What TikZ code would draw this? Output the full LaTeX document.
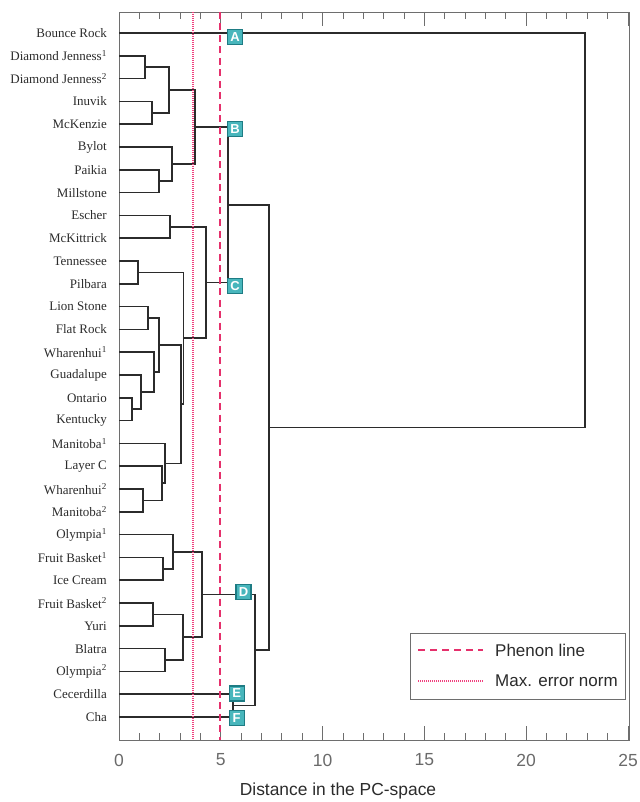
\documentclass[tikz,border=0pt]{standalone}
\usepackage{fontspec}
\setmainfont{Liberation Serif}
\setsansfont{Liberation Sans}
\definecolor{dendro}{HTML}{2B2B2B}
\definecolor{framec}{HTML}{6E6E6E}
\definecolor{phenon}{HTML}{E5306C}
\definecolor{errnorm}{HTML}{F0407E}
\definecolor{tealfill}{HTML}{48B6BC}
\definecolor{tealdark}{HTML}{1E7C84}
\definecolor{axistext}{HTML}{6A6A6A}
\tikzset{
  leaf/.style={anchor=east, inner sep=0pt, font=\fontsize{13}{13}\selectfont, text=dendro},
  dline/.style={draw=dendro, line width=1.7pt},
  frameline/.style={draw=framec, line width=0.9pt},
  phenonline/.style={draw=phenon, line width=2.4pt, dash pattern=on 7pt off 4.5pt},
  errline/.style={draw=errnorm, line width=1.3pt, dash pattern=on 1pt off 1pt},
  clusterbox/.style={draw=tealdark, fill=tealfill, line width=1.1pt, minimum width=15pt, minimum height=15pt, inner sep=0pt, text=white, font=\sffamily\bfseries\fontsize{13}{13}\selectfont},
  ticklabel/.style={font=\sffamily\fontsize{17.5}{17.5}\selectfont, text=axistext},
  legendtext/.style={anchor=west, inner sep=0pt, font=\sffamily\fontsize{17}{17}\selectfont, text=dendro},
}
\begin{document}
\begin{tikzpicture}[x=1pt,y=-1pt]
\useasboundingbox (0,0) rectangle (639,802);
% frame
\draw[frameline] (119,12) rectangle (629,740);
\foreach \v in {1,...,24}{
  \pgfmathsetmacro{\xx}{119+20.36*\v}
  \pgfmathtruncatemacro{\md}{mod(\v,5)}
  \ifnum\md=0
    \draw[frameline] (\xx,740) -- (\xx,726);
    \draw[frameline] (\xx,12) -- (\xx,26);
  \else
    \draw[frameline] (\xx,740) -- (\xx,733);
    \draw[frameline] (\xx,12) -- (\xx,19);
  \fi
}
\draw[frameline] (628,740) -- (628,726);
\draw[frameline] (628,12) -- (628,26);
\foreach \v in {0,5,...,25}{
  \node[ticklabel] (t\v) at ({119+20.36*\v},760) {\v};
}
\node[font=\sffamily\fontsize{17.4}{17.4}\selectfont, text=dendro] (xlabel) at (338,791) {Distance in the PC-space};
% leaves
\foreach \i/\name in {0/Bounce Rock,1/Diamond Jenness\textsuperscript{1},2/Diamond Jenness\textsuperscript{2},3/Inuvik,4/McKenzie,5/Bylot,6/Paikia,7/Millstone,8/Escher,9/McKittrick,10/Tennessee,11/Pilbara,12/Lion Stone,13/Flat Rock,14/Wharenhui\textsuperscript{1},15/Guadalupe,16/Ontario,17/Kentucky,18/Manitoba\textsuperscript{1},19/Layer C,20/Wharenhui\textsuperscript{2},21/Manitoba\textsuperscript{2},22/Olympia\textsuperscript{1},23/Fruit Basket\textsuperscript{1},24/Ice Cream,25/Fruit Basket\textsuperscript{2},26/Yuri,27/Blatra,28/Olympia\textsuperscript{2},29/Cecerdilla,30/Cha}{
  \node[leaf] (L\i) at (107,{33+22.8*\i}) {\name};
  \coordinate (p\i) at (119,{33+22.8*\i});
}
% merge points
\coordinate (m1) at (144.7,67.2);
\coordinate (m2) at (152,112.8);
\coordinate (m3) at (169,90);
\coordinate (m4) at (158.7,181.2);
\coordinate (m5) at (171.7,164.1);
\coordinate (m6) at (194.7,127.05);
\coordinate (m7) at (170,226.8);
\coordinate (m8) at (138,272.4);
\coordinate (m9) at (148,318);
\coordinate (m10) at (131.7,409.2);
\coordinate (m11) at (140.7,392.1);
\coordinate (m12) at (154.3,372.15);
\coordinate (m13) at (159,345.08);
\coordinate (m14) at (143.3,500.4);
\coordinate (m15) at (162.3,483.3);
\coordinate (m16) at (164.7,463.35);
\coordinate (m17) at (181,404.21);
\coordinate (m18) at (183.5,338.3);
\coordinate (m19) at (205.7,282.55);
\coordinate (m20) at (228.3,204.8);
\coordinate (m21) at (162.7,568.8);
\coordinate (m22) at (173,551.7);
\coordinate (m23) at (152.7,614.4);
\coordinate (m24) at (165.3,660);
\coordinate (m25) at (182.7,637.2);
\coordinate (m26) at (202.3,594.45);
\coordinate (m27) at (233.3,705.6);
\coordinate (m28) at (255.3,650.03);
\coordinate (m29) at (269.3,427.4);
\coordinate (m30) at (585,230.2);
% dendrogram brackets
\foreach \a/\m/\b in {p1/m1/p2, p3/m2/p4, m1/m3/m2, p6/m4/p7, p5/m5/m4, m3/m6/m5,
  p8/m7/p9, p10/m8/p11, p12/m9/p13, p16/m10/p17, p15/m11/m10, p14/m12/m11, m9/m13/m12,
  p20/m14/p21, p19/m15/m14, p18/m16/m15, m13/m17/m16, m8/m18/m17, m7/m19/m18, m6/m20/m19,
  p23/m21/p24, p22/m22/m21, p25/m23/p26, p27/m24/p28, m23/m25/m24, m22/m26/m25,
  p29/m27/p30, m26/m28/m27, m20/m29/m28, p0/m30/m29}{
  \draw[dline] (\a) -| (\m) |- (\b);
}
% cut lines
\coordinate (ph1) at (220,12);
\coordinate (ph2) at (220,740);
\coordinate (er1) at (193,12);
\coordinate (er2) at (193,740);
\draw[errline] (er1) -- (er2);
\draw[phenonline] (ph1) -- (ph2);
% cluster labels
\node[clusterbox] (A) at (235,37) {A};
\node[clusterbox] (B) at (235,129) {B};
\node[clusterbox] (C) at (235,286) {C};
\node[clusterbox] (D) at (243.5,592) {D};
\node[clusterbox] (E) at (236.7,693.5) {E};
\node[clusterbox] (F) at (236.7,718) {F};
% legend
\node[draw=framec, fill=white, line width=1pt, minimum width=215pt, minimum height=66pt, inner sep=0pt] (legend) at (517.5,666) {};
\coordinate (lg1a) at (418,650);
\coordinate (lg1b) at (483,650);
\coordinate (lg2a) at (418,681);
\coordinate (lg2b) at (483,681);
\draw[phenonline, dash pattern=on 7pt off 5pt] (lg1a) -- (lg1b);
\draw[errline] (lg2a) -- (lg2b);
\node[legendtext] (lt1) at (495,650) {Phenon line};
\node[legendtext] (lt2) at (495,681) {Max. error norm};
\end{tikzpicture}
\end{document}
